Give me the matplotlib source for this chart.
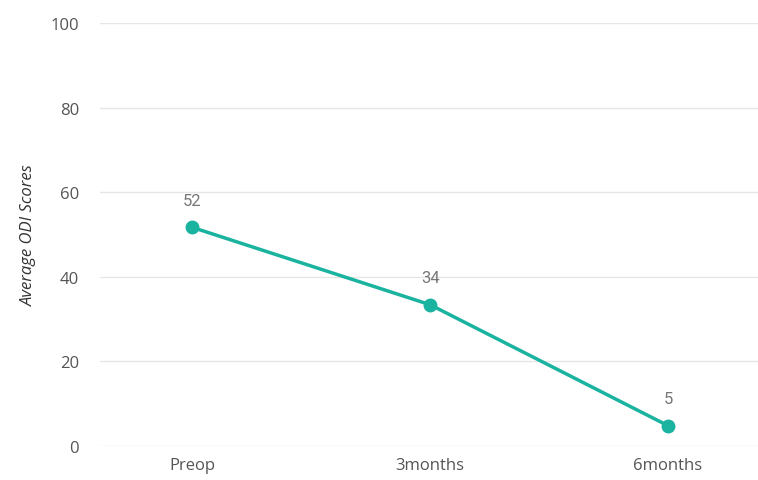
import numpy as np
from matplotlib import pyplot as plt

plt.rcParams['font.family'] = ['Open Sans', 'DejaVu Sans']

# data
periods = ['Preop', '3months', '6months']
odi_scores = [51.7, 33.4, 4.8]
score_labels = ['52', '34', '5']

fig = plt.figure(figsize=(7.58, 4.81), dpi=100)
ax = fig.add_axes([100 / 758, 34 / 481, 658 / 758, 423 / 481])

x = np.arange(len(periods))
ax.plot(x, odi_scores, color='#1AB3A0', lw=2.5, marker='o', ms=9, zorder=3, clip_on=False)
for xi, yi, lab in zip(x, odi_scores, score_labels):
    ax.annotate(lab, (xi, yi), xytext=(0, 14), textcoords='offset points',
                ha='center', va='bottom', fontsize=12, color='#777777',
                family=['Roboto', 'DejaVu Sans'])

ax.set_xlim(-0.387, 2.378)
ax.set_ylim(0, 100)
ax.set_yticks(range(0, 101, 20))
ax.set_xticks(x)
ax.set_xticklabels(periods)
ax.yaxis.grid(True, color='#E6E6E6', lw=1)
ax.set_axisbelow(True)
for s in ax.spines.values():
    s.set_visible(False)
ax.tick_params(axis='both', length=0, labelsize=12, labelcolor='#555555')
ax.tick_params(axis='y', pad=15)
ax.tick_params(axis='x', pad=8)
ax.set_ylabel('Average ODI Scores', fontsize=12, color='#333333', style='italic', labelpad=10)

fig.savefig('out.png', dpi=100)
